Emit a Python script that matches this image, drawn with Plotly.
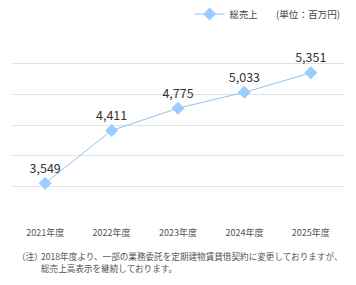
import plotly.graph_objects as go

categories = ["2021年度", "2022年度", "2023年度", "2024年度", "2025年度"]
sales = [3549, 4411, 4775, 5033, 5351]
labels = ["3,549", "4,411", "4,775", "5,033", "5,351"]
series_name = "総売上"
unit_text = "(単位：百万円)"
note_mark = "（注）"
note_lines = ["2018年度より、一部の業務委託を定期建物賃貸借契約に変更しておりますが、",
              "総売上高表示を継続しております。"]

font_family = "Noto Sans CJK JP, Noto Sans, sans-serif"

fig = go.Figure()
fig.add_trace(go.Scatter(
    x=categories, y=sales, name=series_name,
    mode="lines+markers+text",
    text=labels, textposition="top center",
    textfont=dict(size=12.5, color="#333333", family=font_family),
    line=dict(color="#8fc4f2", width=1),
    marker=dict(symbol="diamond", size=10, color="#99ccff"),
    cliponaxis=False,
))

fig.update_layout(
    width=356, height=285,
    margin=dict(l=12, r=12, t=33, b=68, autoexpand=False),
    paper_bgcolor="white", plot_bgcolor="white",
    font=dict(family=font_family, size=9, color="#555555"),
    showlegend=True,
    legend=dict(orientation="h", x=0.535, xanchor="left",
                y=1.103, yanchor="middle",
                font=dict(size=9.3, color="#444444"), bgcolor="rgba(0,0,0,0)",
                borderwidth=0),
    xaxis=dict(type="category", range=[-0.5, 4.5], showgrid=False, zeroline=False,
               showline=False, ticks="", ticklabelstandoff=9,
               tickfont=dict(size=9, color="#555555")),
    yaxis=dict(range=[2998, 6002], dtick=500, tick0=3000, showticklabels=False, showgrid=True,
               gridcolor="#e3e3e3", gridwidth=1, zeroline=False, showline=False),
)

fig.add_annotation(text=unit_text, xref="paper", yref="paper", x=0.995, y=1.103,
                   xanchor="right", yanchor="middle", showarrow=False,
                   font=dict(size=9.6, color="#444444", family=font_family))

note_font = dict(size=8.6, color="#555555", family=font_family)
fig.add_annotation(text=note_mark, xref="paper", yref="paper",
                   x=0.008, y=-0.212, xanchor="left", yanchor="middle",
                   showarrow=False, font=note_font)
fig.add_annotation(text=note_lines[0], xref="paper", yref="paper",
                   x=0.082, y=-0.212, xanchor="left", yanchor="middle",
                   showarrow=False, font=note_font)
fig.add_annotation(text=note_lines[1], xref="paper", yref="paper",
                   x=0.082, y=-0.277, xanchor="left", yanchor="middle",
                   showarrow=False, font=note_font)

fig.write_html("out.html")
